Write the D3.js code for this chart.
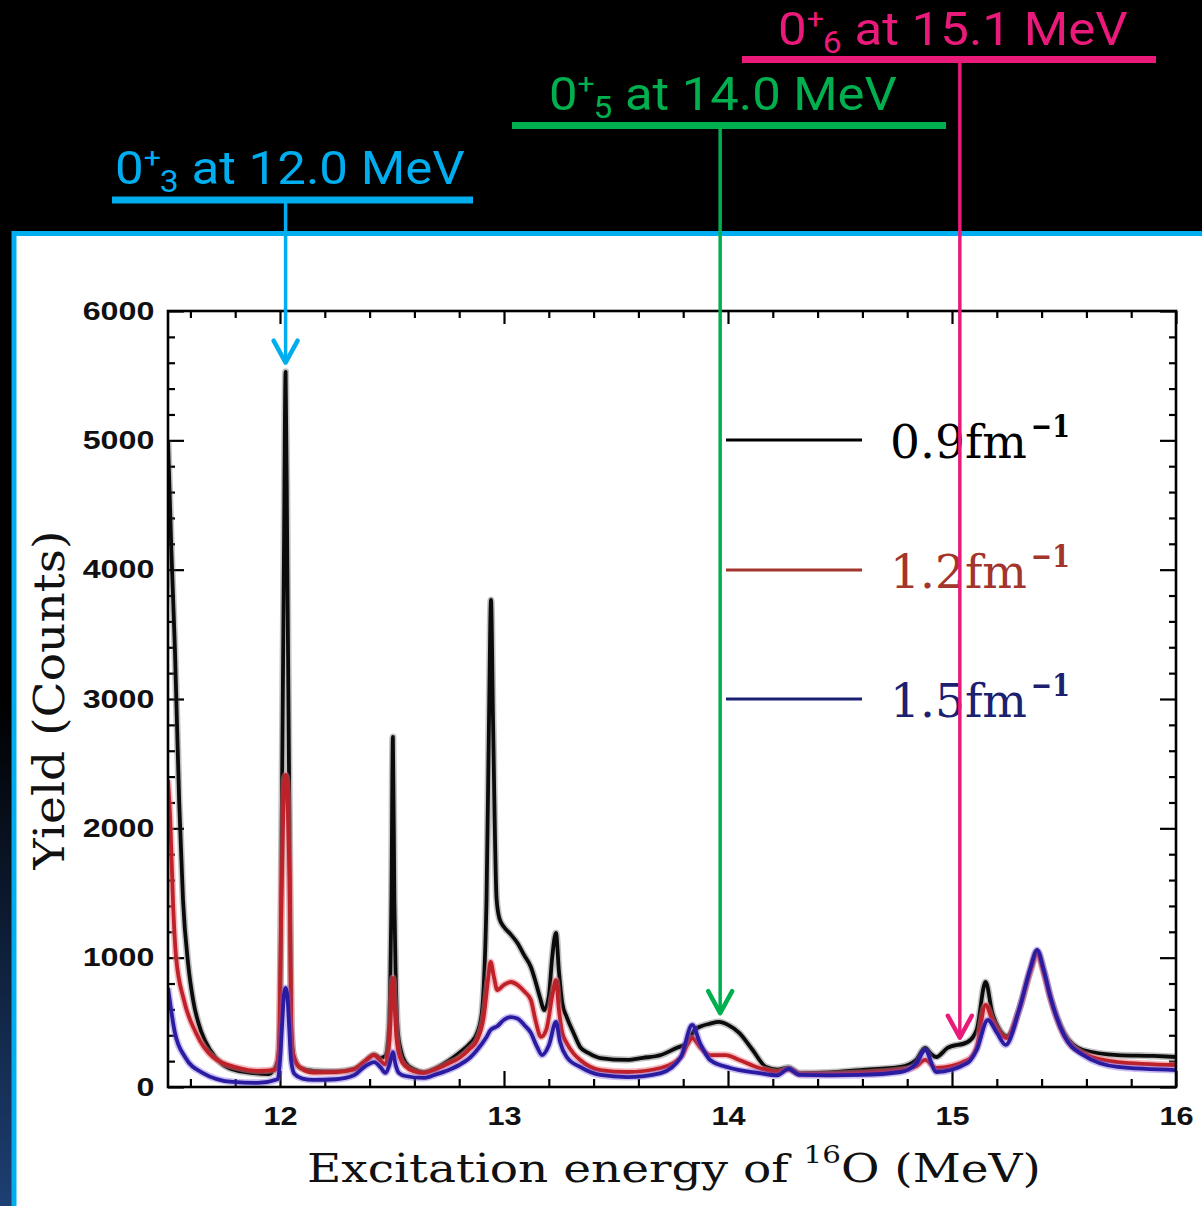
<!DOCTYPE html>
<html>
<head>
<meta charset="utf-8">
<script src="https://d3js.org/d3.v7.min.js"></script>
<style>
  body { margin: 0; background: #000; }
  svg { display: block; }
</style>
</head>
<body>
<script>

// --- data (energy in MeV, yield in counts) ---
var e09 = [11.5,11.515,11.531,11.55,11.567,11.59,11.612,11.65,11.688,11.74,11.79,11.87,11.95,11.99,12.0,12.005,12.0175,12.025,12.0325,12.045,12.05,12.06,12.09,12.15,12.25,12.33,12.38,12.42,12.45,12.47,12.485,12.493,12.4975,12.504,12.5105,12.516,12.525,12.54,12.56,12.6,12.64,12.7,12.75,12.8,12.85,12.88,12.9,12.922,12.933,12.942,12.951,12.967,12.98,13.0,13.03,13.06,13.09,13.12,13.14,13.16,13.18,13.2,13.215,13.232,13.245,13.26,13.28,13.31,13.34,13.38,13.43,13.55,13.62,13.7,13.77,13.82,13.85,13.88,13.92,13.96,14.0,14.05,14.11,14.17,14.22,14.27,14.32,14.45,14.59,14.77,14.84,14.88,14.91,14.93,14.98,15.07,15.11,15.15,15.18,15.21,15.245,15.3,15.35,15.38,15.41,15.44,15.5,15.585,15.74,15.9,16.0];
var y09 = [5000,4150,3380,2200,1446,950,673,420,286,180,135,110,100,200,500,1450,4080,5530,4080,1450,500,250,150,125,120,140,200,250,225,240,420,900,1450,2707,1450,900,450,280,190,135,115,150,200,263,340,418,560,1450,2838,3766,2838,1450,1300,1237,1180,1113,1020,928,820,696,595,700,1000,1191,900,650,541,420,309,260,224,209,225,247,302,340,441,470,490,503,480,418,286,155,135,150,108,112,131,155,210,302,250,232,302,348,441,812,572,450,394,600,900,1044,900,696,418,286,247,240,232];

var e12 = [11.5,11.51,11.522,11.536,11.571,11.625,11.7,11.817,11.9,11.98,11.995,12.005,12.013,12.02,12.025,12.03,12.037,12.045,12.05,12.06,12.09,12.15,12.25,12.33,12.38,12.42,12.45,12.47,12.488,12.497,12.504,12.511,12.52,12.535,12.56,12.6,12.64,12.7,12.75,12.8,12.85,12.88,12.91,12.93,12.94,12.955,12.97,13.0,13.03,13.06,13.09,13.12,13.14,13.165,13.19,13.215,13.232,13.245,13.26,13.28,13.31,13.34,13.43,13.55,13.7,13.79,13.84,13.875,13.92,13.99,14.05,14.14,14.22,14.27,14.32,14.45,14.59,14.77,14.84,14.88,14.93,15.07,15.11,15.15,15.18,15.245,15.3,15.35,15.38,15.41,15.44,15.5,15.585,15.74,16.0];
var y12 = [2374,2065,1446,1005,673,418,232,147,125,135,300,1300,2000,2380,2413,2380,2000,1300,450,240,150,112,115,135,200,247,200,175,350,650,843,650,380,230,160,120,108,140,180,224,300,363,550,850,967,850,750,790,812,790,740,673,520,387,450,700,827,600,420,340,260,209,131,116,147,232,379,309,247,247,209,147,115,135,100,100,108,131,160,209,147,209,309,634,518,379,600,900,1030,880,680,400,260,193,170];

var e15 = [11.5,11.531,11.576,11.656,11.79,11.9,11.99,12.0,12.01,12.018,12.025,12.032,12.04,12.05,12.065,12.1,12.15,12.25,12.33,12.38,12.42,12.45,12.47,12.49,12.504,12.515,12.53,12.56,12.64,12.7,12.75,12.8,12.85,12.88,12.92,12.94,12.97,13.0,13.03,13.06,13.09,13.12,13.145,13.17,13.2,13.232,13.25,13.28,13.34,13.43,13.55,13.7,13.79,13.84,13.875,13.92,14.01,14.14,14.22,14.27,14.32,14.45,14.59,14.77,14.84,14.88,14.93,15.07,15.11,15.16,15.2,15.24,15.3,15.35,15.38,15.41,15.44,15.5,15.585,15.74,16.0];
var y15 = [766,418,232,108,39,32,60,200,500,720,766,720,500,200,100,65,55,60,90,160,193,150,110,180,270,180,110,85,70,100,130,170,230,286,380,441,470,520,541,530,480,418,320,247,320,503,350,232,155,93,77,108,232,480,340,209,147,108,90,140,93,90,93,116,180,286,116,186,286,518,420,325,600,920,1060,900,690,400,247,155,131];

var seriesNames = ["0.9", "1.2", "1.5"];
var xTicks = [12, 13, 14, 15, 16];
var yTicks = [0, 1000, 2000, 3000, 4000, 5000, 6000];

// states marked with arrows: label pieces and the point the arrow hits
var stateSub = ["3", "5", "6"];
var stateText = [" at 12.0 MeV", " at 14.0 MeV", " at 15.1 MeV"];
var stateE = [12.025, 13.965, 15.035];
var stateY = [5570, 540, 350];

// --- layout ---
var W = 1202, H = 1206;
var plot = {left: 168, top: 311, right: 1176, bottom: 1087};

var svg = d3.select("body").append("svg")
  .attr("width", W).attr("height", H);

var defs = svg.append("defs");
var glow = defs.append("linearGradient").attr("id", "glow")
  .attr("x1", 0).attr("y1", 0).attr("x2", 0).attr("y2", 1);
glow.append("stop").attr("offset", "0%").attr("stop-color", "#000");
glow.append("stop").attr("offset", "100%").attr("stop-color", "#1d3f73");

svg.append("rect").attr("width", W).attr("height", H).attr("fill", "#000");
svg.append("rect").attr("x", 0).attr("y", 700).attr("width", 14).attr("height", 506)
  .attr("fill", "url(#glow)");

// white panel with cyan border
svg.append("rect")
  .attr("x", 14).attr("y", 233.5)
  .attr("width", 1240).attr("height", 1040)
  .attr("fill", "#fff")
  .attr("stroke", "#00aeef").attr("stroke-width", 5);

var x = d3.scaleLinear().domain([11.5, 16]).range([plot.left, plot.right]);
var y = d3.scaleLinear().domain([0, 6000]).range([plot.bottom, plot.top]);

defs.append("clipPath").attr("id", "clip")
  .append("rect")
  .attr("x", plot.left).attr("y", plot.top)
  .attr("width", plot.right - plot.left).attr("height", plot.bottom - plot.top);

// --- axes, ticks pointing inward on all four sides ---
var xMinor = d3.range(11.6, 16, 0.2).filter(function(v) { return Math.abs(v - Math.round(v)) > 0.05; });
var yMinor = d3.range(200, 6000, 200).filter(function(v) { return v % 1000 != 0; });

function styleAxis(g) {
  g.select(".domain").remove();
  g.selectAll(".tick line").attr("stroke", "#000").attr("stroke-width", 2.2);
}

svg.append("g").attr("transform", "translate(0," + plot.bottom + ")")
  .call(d3.axisBottom(x).tickValues(xTicks).tickSize(-16).tickPadding(20).tickFormat(d3.format("d")))
  .call(styleAxis)
  .call(function(g) {
    g.selectAll("text")
      .attr("font-family", "Liberation Sans, Arial, sans-serif")
      .attr("font-weight", "bold").attr("font-size", 26).attr("fill", "#111")
      .attr("transform", "scale(1.18,1)");
  });
svg.append("g").attr("transform", "translate(0," + plot.bottom + ")")
  .call(d3.axisBottom(x).tickValues(xMinor).tickSize(-8).tickFormat(""))
  .call(styleAxis);
svg.append("g").attr("transform", "translate(0," + plot.top + ")")
  .call(d3.axisTop(x).tickValues(xTicks).tickSize(-13).tickFormat(""))
  .call(styleAxis);
svg.append("g").attr("transform", "translate(0," + plot.top + ")")
  .call(d3.axisTop(x).tickValues(xMinor).tickSize(-7).tickFormat(""))
  .call(styleAxis);

svg.append("g").attr("transform", "translate(" + plot.left + ",0)")
  .call(d3.axisLeft(y).tickValues(yTicks).tickSize(-16).tickPadding(11).tickFormat(d3.format("d")))
  .call(styleAxis)
  .call(function(g) {
    g.selectAll("text")
      .attr("font-family", "Liberation Sans, Arial, sans-serif")
      .attr("font-weight", "bold").attr("font-size", 26).attr("fill", "#111")
      .attr("transform", "scale(1.24,1)");
  });
svg.append("g").attr("transform", "translate(" + plot.left + ",0)")
  .call(d3.axisLeft(y).tickValues(yMinor).tickSize(-7).tickFormat(""))
  .call(styleAxis);
svg.append("g").attr("transform", "translate(" + plot.right + ",0)")
  .call(d3.axisRight(y).tickValues(yTicks).tickSize(-16).tickFormat(""))
  .call(styleAxis);
svg.append("g").attr("transform", "translate(" + plot.right + ",0)")
  .call(d3.axisRight(y).tickValues(yMinor).tickSize(-7).tickFormat(""))
  .call(styleAxis);

// --- spectra ---
var series = [
  {e: e09, v: y09, color: "#0b0b0b", halo: "rgba(80,80,80,0.35)"},
  {e: e12, v: y12, color: "#bf2129", halo: "rgba(235,120,130,0.5)"},
  {e: e15, v: y15, color: "#2a1ca0", halo: "rgba(120,90,220,0.4)"}
];

var line = d3.line()
  .x(function(d) { return x(d[0]); })
  .y(function(d) { return y(d[1]); })
  .curve(d3.curveMonotoneX);

var curves = svg.append("g").attr("clip-path", "url(#clip)");
series.forEach(function(s) {
  var pts = s.e.map(function(v, i) { return [v, s.v[i]]; });
  curves.append("path").datum(pts)
    .attr("fill", "none").attr("stroke", s.halo).attr("stroke-width", 7)
    .attr("stroke-linejoin", "round").attr("d", line);
  curves.append("path").datum(pts)
    .attr("fill", "none").attr("stroke", s.color).attr("stroke-width", 3.8)
    .attr("stroke-linejoin", "round").attr("d", line);
});

// frame
svg.append("rect")
  .attr("x", plot.left).attr("y", plot.top)
  .attr("width", plot.right - plot.left).attr("height", plot.bottom - plot.top)
  .attr("fill", "none").attr("stroke", "#000").attr("stroke-width", 2.6);

// scale a text group horizontally so it spans a target width
function fit(g, x0, y0, width) {
  var w = g.node().getBBox().width;
  g.attr("transform", "translate(" + x0 + "," + y0 + ") scale(" + (width / w) + ",1)");
}

// --- legend ---
var legendColors = ["#000", "#a3352c", "#1b2170"];
var legendY = [440, 570, 699];
seriesNames.forEach(function(n, i) {
  svg.append("line")
    .attr("x1", 726).attr("x2", 862).attr("y1", legendY[i]).attr("y2", legendY[i])
    .attr("stroke", legendColors[i]).attr("stroke-width", 3);
  var g = svg.append("g");
  g.append("text")
    .attr("font-family", "DejaVu Serif, serif").attr("font-size", 46)
    .attr("fill", legendColors[i])
    .text(n + "fm");
  fit(g, 890, legendY[i] + 18, 137);
  var s = svg.append("g");
  s.append("text")
    .attr("font-family", "DejaVu Serif, serif").attr("font-size", 31).attr("font-weight", "bold")
    .attr("fill", legendColors[i])
    .text("\u22121");
  fit(s, 1031, legendY[i] - 3, 39);
});

// --- axis titles ---
var xt = svg.append("g");
var xtext = xt.append("text")
  .attr("font-family", "DejaVu Serif, serif").attr("font-size", 40).attr("fill", "#111");
xtext.append("tspan").text("Excitation  energy  of  ");
xtext.append("tspan").attr("font-size", 25).attr("dy", -19).text("16");
xtext.append("tspan").attr("dy", 19).text("O (MeV)");
fit(xt, 307, 1182, 734);

var yt = svg.append("g");
yt.append("text")
  .attr("font-family", "DejaVu Serif, serif").attr("font-size", 43).attr("fill", "#111")
  .attr("text-anchor", "middle")
  .text("Yield (Counts)");
yt.attr("transform", "translate(64,700) rotate(-90)");
var yw = yt.node().getBBox().width;
yt.attr("transform", "translate(64,700) rotate(-90) scale(" + (340 / yw) + ",1)");

// --- state annotations ---
var annColors = ["#00aeef", "#00b04f", "#ea1a7a"];
var annText = [{x: 115, base: 184, w: 350}, {x: 549, base: 110, w: 348}, {x: 778, base: 45, w: 350}];
var annBar = [{x1: 112, x2: 473, y: 200}, {x1: 512, x2: 946, y: 125.5}, {x1: 742, x2: 1156, y: 59.5}];

stateE.forEach(function(e, i) {
  var c = annColors[i];
  var g = svg.append("g");
  var t = g.append("text")
    .attr("font-family", "Roboto, sans-serif").attr("font-size", 47).attr("fill", c);
  t.append("tspan").text("0");
  t.append("tspan").attr("font-size", 28).attr("dy", -17).text("+");
  t.append("tspan").attr("font-size", 31).attr("dy", 25).attr("dx", -1).text(stateSub[i]);
  t.append("tspan").attr("dy", -8).text(stateText[i]);
  fit(g, annText[i].x, annText[i].base, annText[i].w);

  svg.append("line")
    .attr("x1", annBar[i].x1).attr("x2", annBar[i].x2)
    .attr("y1", annBar[i].y).attr("y2", annBar[i].y)
    .attr("stroke", c).attr("stroke-width", 7);

  var ax = x(e), ay = y(stateY[i]) - 4;
  svg.append("line")
    .attr("x1", ax).attr("x2", ax).attr("y1", annBar[i].y).attr("y2", ay)
    .attr("stroke", c).attr("stroke-width", 3.5);
  svg.append("path")
    .attr("d", "M" + (ax - 12) + "," + (ay - 22) + "L" + ax + "," + ay + "L" + (ax + 12) + "," + (ay - 22))
    .attr("fill", "none").attr("stroke", c).attr("stroke-width", 4.5)
    .attr("stroke-linecap", "round").attr("stroke-linejoin", "round");
});

</script>
</body>
</html>
